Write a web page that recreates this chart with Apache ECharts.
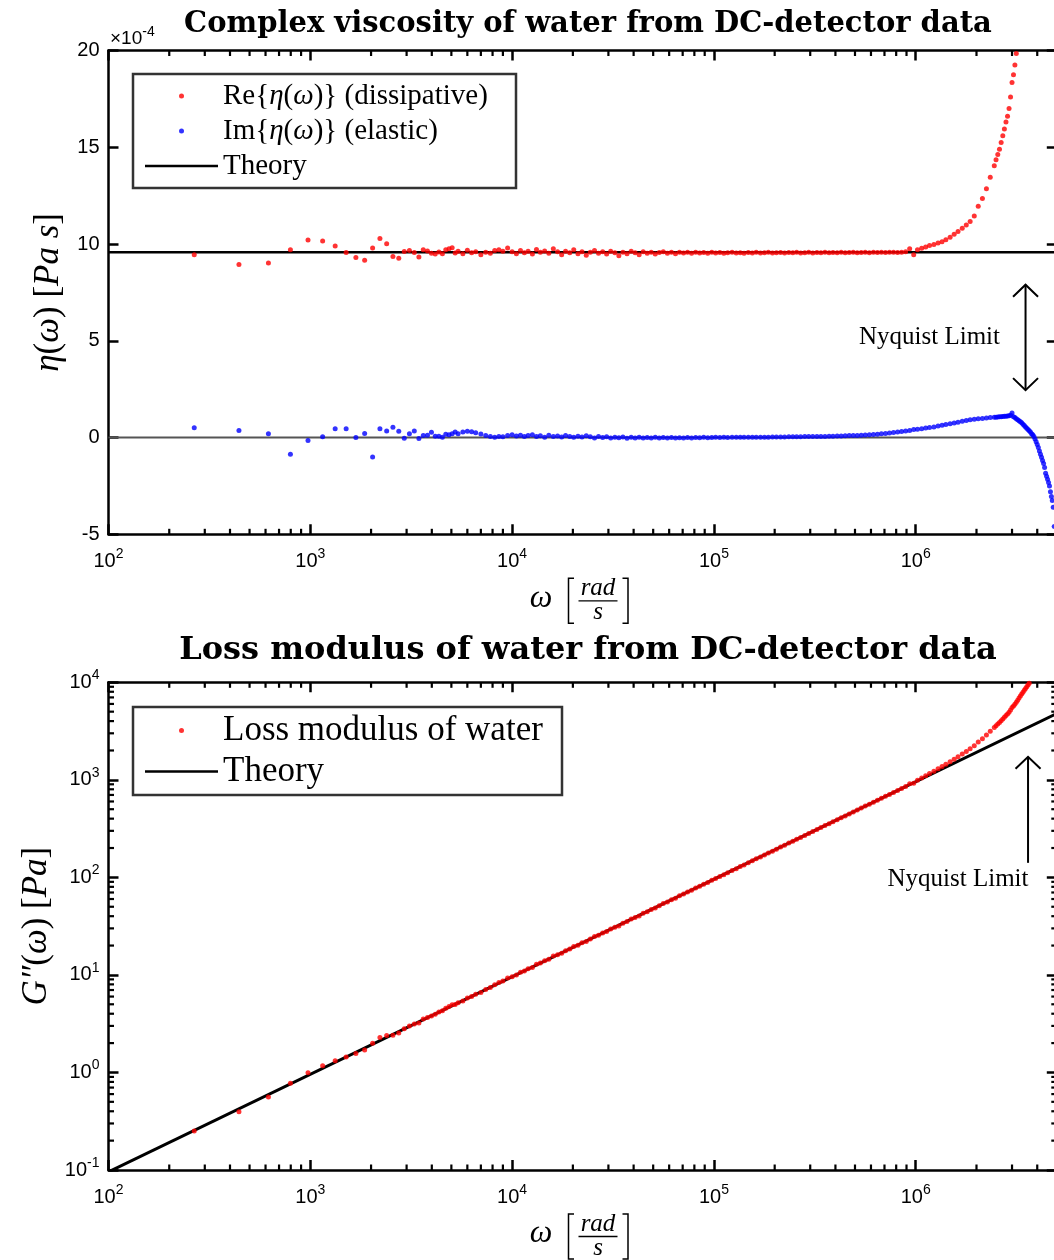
<!DOCTYPE html>
<html><head><meta charset="utf-8">
<script src="https://cdn.jsdelivr.net/npm/echarts@6/dist/echarts.min.js"></script>
<style>html,body{margin:0;padding:0;background:#fff}#c{width:1054px;height:1260px}</style>
</head><body><div id="c"></div>
<script>
// ---------------- DATA ----------------
// angular frequency omega [rad/s]
const omega = [
 266,443,620,797,974,1151,1328,1505,1682,1859,2036,2213,2390,2567,2744,2921,3098,3275,3452,3629,
 3806,3983,4160,4337,4514,4691,4868,5045,5222,
 5400,5700,6000,6300,6600,7000,7400,7800,8200,8600,
 9000,9500,10000,10500,11000,11500,12000,12600,13200,13800,
 14500,15200,16000,16800,17600,18400,19300,20200,21200,22200,
 23300,24400,25600,26800,28100,29400,30800,32300,33800,35400,
 37100,38900,40700,42600,44600,46700,48900,51200,53600,56100,
 58800,61600,64500,67500,70700,74000,77500,81200,85000,89000,
 93200,97600,102000,107000,112000,117000,123000,129000,135000,141000,
 148000,155000,162000,170000,178000,186000,195000,204000,214000,224000,
 235000,246000,257000,269000,282000,295000,309000,324000,339000,355000,
 372000,389000,408000,427000,447000,468000,490000,513000,537000,562000,
 589000,617000,646000,676000,708000,741000,776000,813000,851000,891000,
 933000,977000,1020000,1070000,1120000,1170000,1230000,1290000,1350000,1410000,
 1480000,1550000,1620000,1700000,1780000,1860000,1950000,2040000,2140000,2240000,
 2340000,2450000,
 2500000,2550000,2600000,2650000,2700000,2750000,2800000,2850000,2900000,2950000,
 3000000,3050000,3100000,3150000,3200000,3250000,3300000,3350000,3400000,3450000,
 3500000,3550000,3600000,3650000,3700000,3750000,3800000,3850000,3900000,3950000,
 4000000,4050000,4100000,4150000,4200000,4250000,4300000,4350000,4400000,4450000,
 4500000,4550000,4600000,4650000,4700000,4750000,4800000,4850000
];
// Re{eta(omega)} in units of 1e-4 Pa s (null = above the plotted range)
const reEta = [
 9.45,8.94,9.02,9.71,10.21,10.16,9.90,9.56,9.30,9.16,9.80,10.29,10.02,9.35,9.26,9.61,9.67,9.56,9.33,9.71,
 9.64,9.52,9.49,9.59,9.50,9.70,9.75,9.81,9.54,
 9.62,9.50,9.68,9.55,9.60,9.45,9.58,9.52,9.66,9.70,
 9.62,9.80,9.60,9.50,9.66,9.55,9.62,9.48,9.72,9.58,
 9.64,9.52,9.75,9.60,9.45,9.62,9.55,9.70,9.50,9.60,
 9.42,9.58,9.66,9.52,9.60,9.48,9.62,9.55,9.40,9.58,
 9.50,9.62,9.55,9.45,9.60,9.52,9.58,9.48,9.56,9.60,
 9.52,9.57,9.50,9.58,9.53,9.57,9.52,9.58,9.54,9.56,
 9.52,9.57,9.53,9.56,9.52,9.55,9.58,9.53,9.55,9.52,
 9.56,9.54,9.57,9.53,9.55,9.57,9.53,9.55,9.56,9.54,
 9.56,9.55,9.57,9.54,9.55,9.57,9.54,9.56,9.55,9.57,
 9.55,9.56,9.55,9.57,9.55,9.56,9.57,9.55,9.56,9.57,
 9.55,9.57,9.56,9.58,9.56,9.57,9.58,9.56,9.58,9.60,
 9.75,9.45,9.70,9.78,9.85,9.92,9.98,10.05,10.12,10.22,
 10.35,10.50,10.65,10.82,10.98,11.17,11.45,11.95,12.35,12.85,
 13.45,14.05,
 14.35,14.62,14.90,15.25,15.60,15.95,16.30,16.60,17.00,17.60,
 18.35,18.75,19.25,19.85,20.5,21.2,21.9,22.6,23.3,24.0,
 24.7,25.4,26.1,26.8,27.5,null,null,null,null,null,
 null,null,null,null,null,null,null,null,null,null,
 null,null,null,null,null,null,null,null
];
// Im{eta(omega)} in units of 1e-4 Pa s
const imEta = [
 0.50,0.36,0.19,-0.86,-0.15,0.04,0.45,0.45,0.00,0.21,-1.00,0.45,0.34,0.53,0.33,-0.04,0.19,0.34,-0.05,0.10,
 0.12,0.27,0.07,0.07,0.02,0.17,0.15,0.19,0.29,
 0.20,0.28,0.33,0.30,0.25,0.18,0.10,0.05,0.02,0.06,
 0.04,0.10,0.14,0.08,0.12,0.05,0.10,0.14,0.06,0.09,
 0.02,0.12,0.05,0.08,0.03,0.10,0.06,0.02,0.07,0.03,
 0.09,0.04,-0.02,0.05,0.00,0.04,-0.03,0.02,-0.01,0.03,
 -0.04,0.01,-0.02,0.02,-0.03,0.00,-0.02,0.01,-0.03,0.00,
 -0.02,0.00,-0.03,-0.01,-0.02,0.00,-0.02,0.00,-0.01,0.01,
 -0.01,0.00,0.01,0.00,0.01,0.00,0.01,0.01,0.02,0.01,
 0.02,0.02,0.01,0.02,0.02,0.02,0.03,0.03,0.03,0.03,
 0.04,0.04,0.04,0.04,0.05,0.05,0.05,0.06,0.06,0.06,
 0.07,0.07,0.08,0.08,0.09,0.10,0.10,0.11,0.12,0.13,
 0.14,0.16,0.17,0.19,0.21,0.23,0.26,0.28,0.31,0.34,
 0.37,0.41,0.43,0.46,0.49,0.52,0.55,0.59,0.63,0.67,
 0.71,0.75,0.79,0.84,0.88,0.92,0.95,0.97,0.99,1.01,
 1.03,1.05,
 1.05,1.06,1.07,1.08,1.09,1.10,1.10,1.11,1.12,1.15,
 1.27,1.08,1.03,0.97,0.92,0.87,0.82,0.76,0.69,0.62,
 0.55,0.48,0.42,0.35,0.28,0.20,0.15,0.05,-0.08,-0.22,
 -0.36,-0.52,-0.70,-0.86,-1.02,-1.18,-1.34,-1.55,-1.85,-2.00,
 -2.15,-2.32,-2.50,-2.80,-3.05,-3.25,-3.60,-4.60
];
// theory lines (endpoints)
const theoryOmega = [100, 5000000];
const theoryEta = [9.57, 9.57];        // 1e-4 Pa s
const theoryZero = [0, 0];
const theoryG = [0.0957, 4785];        // Pa
// axes
const X_MIN = 100, X_MAX = 5000000;
const ETA_MIN = -5, ETA_MAX = 20, ETA_STEP = 5;
const G_MIN = 0.1, G_MAX = 10000;
const ETA_SCALE = 1e-4;
const nyquistOmega = 3500000;

// ---------------- CHART ----------------
const SERIF = "'Liberation Serif', 'DejaVu Serif', serif";
const SANS = "'Liberation Sans', Arial, sans-serif";
const chart = echarts.init(document.getElementById('c'));

const reData = omega.map((w, i) => [w, reEta[i]]).filter(p => p[1] !== null);
const imData = omega.map((w, i) => [w, imEta[i]]);
const lossData = omega.map((w, i) => reEta[i] === null ? null : [w, w * reEta[i] * ETA_SCALE]).filter(Boolean);
const theoryEtaData = theoryOmega.map((w, i) => [w, theoryEta[i]]);
const zeroData = theoryOmega.map((w, i) => [w, theoryZero[i]]);
const theoryGData = theoryOmega.map((w, i) => [w, theoryG[i]]);

function powLabel(v) {
  const l = Math.log10(v), e = Math.round(l);
  if (Math.abs(l - e) > 1e-6) return '';
  return '{b|10}{s|' + e + '}';
}
const powRich = {
  b: {fontSize: 20, fontFamily: SANS, color: '#000', verticalAlign: 'bottom', lineHeight: 20},
  s: {fontSize: 14, fontFamily: SANS, color: '#000', verticalAlign: 'bottom', lineHeight: 14, padding: [0, 0, 10, 0]}
};
const axLine = {show: true, onZero: false, lineStyle: {color: '#000', width: 2.5}};
const axTick = {show: true, inside: true, length: 10, lineStyle: {color: '#000', width: 2.5}};

function xAx(gi, pos, label) {
  return {type: 'log', logBase: 10, gridIndex: gi, position: pos, min: X_MIN, max: X_MAX,
    axisLine: axLine, axisTick: axTick,
    axisLabel: {show: label, margin: 17, color: '#000', formatter: powLabel, rich: powRich, showMaxLabel: false},
    splitLine: {show: false}, minorTick: {show: false}, minorSplitLine: {show: false}};
}
const italicY = {fontStyle: 'italic', fontFamily: SERIF, fontSize: 35, color: '#000'};
const LINE_ICON = 'path://M0,0 L73,0 L73,2.5 L0,2.5 Z';

const legendText = {
  re: 'Re{{i|η}({i|ω})} (dissipative)',
  im: 'Im{{i|η}({i|ω})} (elastic)',
  Theory: 'Theory',
  loss: 'Loss modulus of water'
};

const option = {
  animation: false,
  backgroundColor: '#fff',
  title: [
    {text: 'Complex viscosity of water from DC-detector data', left: 583, top: 5, textAlign: 'center',
     textStyle: {fontFamily: "'DejaVu Serif', serif", fontWeight: 'bold', fontSize: 29, color: '#000'}},
    {text: 'Loss modulus of water from DC-detector data', left: 583, top: 630, textAlign: 'center',
     textStyle: {fontFamily: "'DejaVu Serif', serif", fontWeight: 'bold', fontSize: 32, color: '#000'}}
  ],
  grid: [
    {left: 108.5, top: 50.5, width: 948.3, height: 483.8, outerBoundsMode: 'none'},
    {left: 108.5, top: 682.3, width: 948.3, height: 487.7, outerBoundsMode: 'none'}
  ],
  xAxis: [xAx(0, 'bottom', true), xAx(0, 'top', false), xAx(1, 'bottom', true), xAx(1, 'top', false)],
  yAxis: [
    {type: 'value', gridIndex: 0, position: 'left', min: ETA_MIN, max: ETA_MAX, interval: ETA_STEP,
     axisLine: axLine, axisTick: axTick, splitLine: {show: false},
     axisLabel: {margin: 9, color: '#000', fontSize: 20, fontFamily: SANS},
     name: '{i|η}({i|ω}) [{i|Pa}{i| s}]', nameLocation: 'middle', nameRotate: 90, nameGap: 42,
     nameTextStyle: {fontFamily: SERIF, fontSize: 35, color: '#000', rich: {i: italicY}}},
    {type: 'value', gridIndex: 0, position: 'right', min: ETA_MIN, max: ETA_MAX, interval: ETA_STEP,
     axisLine: axLine, axisTick: axTick, splitLine: {show: false}, axisLabel: {show: false}},
    {type: 'log', logBase: 10, gridIndex: 1, position: 'left', min: G_MIN, max: G_MAX,
     axisLine: axLine, axisTick: axTick, splitLine: {show: false}, minorTick: {show: false},
     axisLabel: {margin: 9, color: '#000', formatter: powLabel, rich: powRich},
     name: '{i|G″}({i|ω}) [{i|Pa}]', nameLocation: 'middle', nameRotate: 90, nameGap: 47,
     nameTextStyle: {fontFamily: SERIF, fontSize: 35, color: '#000', rich: {i: italicY}}},
    {type: 'log', logBase: 10, gridIndex: 1, position: 'right', min: G_MIN, max: G_MAX,
     axisLine: axLine, axisTick: axTick, splitLine: {show: false}, minorTick: {show: false}, axisLabel: {show: false}}
  ],
  legend: [
    {data: ['re', 'im', {name: 'Theory', icon: LINE_ICON, itemStyle: {color: '#000'}}],
     left: 133, top: 74, orient: 'vertical',
     itemWidth: 73, itemHeight: 5, itemGap: 6, padding: [7.5, 9, 7.5, 12],
     borderColor: '#333', borderWidth: 2.5, backgroundColor: '#fff', selectedMode: false,
     formatter: n => legendText[n],
     textStyle: {fontFamily: SERIF, fontSize: 29, lineHeight: 26, color: '#000', width: 284,
       rich: {i: {fontStyle: 'italic', fontFamily: SERIF, fontSize: 29, lineHeight: 26, color: '#000'}}}},
    {data: ['loss', {name: 'Theory', icon: LINE_ICON, itemStyle: {color: '#000'}}],
     left: 133, top: 707, orient: 'vertical',
     itemWidth: 73, itemHeight: 5, itemGap: 6, padding: [6, 10, 6, 12],
     borderColor: '#333', borderWidth: 2.5, backgroundColor: '#fff', selectedMode: false,
     formatter: n => legendText[n],
     textStyle: {fontFamily: SERIF, fontSize: 35, lineHeight: 30, color: '#000', width: 329}}
  ],
  series: [
    {name: 'Theory', type: 'line', xAxisIndex: 0, yAxisIndex: 0, data: theoryEtaData, symbol: 'none',
     lineStyle: {color: '#000', width: 2.5}, itemStyle: {color: '#000'}, z: 2, silent: true},
    {name: 'zero', type: 'line', xAxisIndex: 0, yAxisIndex: 0, data: zeroData, symbol: 'none',
     lineStyle: {color: '#555', width: 2}, itemStyle: {color: '#555'}, z: 2, silent: true},
    {name: 're', type: 'scatter', xAxisIndex: 0, yAxisIndex: 0, data: reData, symbol: 'circle', symbolSize: 5,
     itemStyle: {color: '#ff0000'}, z: 3, silent: true},
    {name: 'im', type: 'scatter', xAxisIndex: 0, yAxisIndex: 0, data: imData, symbol: 'circle', symbolSize: 5,
     itemStyle: {color: '#0000ff'}, z: 3, silent: true},
    {name: 'Theory', type: 'line', xAxisIndex: 2, yAxisIndex: 2, data: theoryGData, symbol: 'none',
     lineStyle: {color: '#000', width: 3}, itemStyle: {color: '#000'}, z: 2, silent: true},
    {name: 'loss', type: 'scatter', xAxisIndex: 2, yAxisIndex: 2, data: lossData, symbol: 'circle', symbolSize: 5,
     itemStyle: {color: '#ff0000'}, z: 3, silent: true}
  ]
};
chart.setOption(option);

// ---------- decorations: minor ticks, annotations, x-axis names ----------
const G = [];
function seg(x1, y1, x2, y2, w) {
  G.push({type: 'line', silent: true, z: 50, shape: {x1, y1, x2, y2}, style: {stroke: '#000', lineWidth: w}});
}
function poly(points, w) {
  G.push({type: 'polyline', silent: true, z: 50, shape: {points}, style: {stroke: '#000', lineWidth: w, fill: null}});
}
function txt(x, y, text, font, align) {
  G.push({type: 'text', silent: true, z: 50, x, y,
    style: {text, font, fill: '#000', align: align || 'center', verticalAlign: 'middle'}});
}
const xMinor = [];
for (let e = 2; e <= 6; e++) for (let k = 2; k <= 9; k++) { const v = k * Math.pow(10, e); if (v < X_MAX) xMinor.push(v); }
const yMinor = [];
for (let e = -1; e <= 3; e++) for (let k = 2; k <= 9; k++) yMinor.push(k * Math.pow(10, e));
[[0, ETA_MIN, ETA_MAX], [1, G_MIN, G_MAX]].forEach(([gi, lo, hi]) => {
  const yb = chart.convertToPixel({gridIndex: gi}, [X_MIN, lo])[1];
  const yt = chart.convertToPixel({gridIndex: gi}, [X_MIN, hi])[1];
  xMinor.forEach(v => {
    const x = chart.convertToPixel({gridIndex: gi}, [v, lo])[0];
    seg(x, yb, x, yb - 5.5, 2.2); seg(x, yt, x, yt + 5.5, 2.2);
  });
});
const xl = chart.convertToPixel({gridIndex: 1}, [X_MIN, 1])[0];
const xr = chart.convertToPixel({gridIndex: 1}, [X_MAX, 1])[0];
yMinor.forEach(v => {
  const y = chart.convertToPixel({gridIndex: 1}, [X_MIN, v])[1];
  seg(xl, y, xl + 5.5, y, 2.2); seg(xr, y, xr - 5.5, y, 2.2);
});

// x-axis names: omega [rad / s]
const IT = "italic 32px 'Liberation Serif'";
const ITs = "italic 25px 'Liberation Serif'";
[0, 1].forEach(gi => {
  const yb = chart.convertToPixel({gridIndex: gi}, [X_MIN, gi === 0 ? ETA_MIN : G_MIN])[1];
  const cy = yb + 66;
  txt(541, cy - 2, 'ω', IT);
  poly([[574, cy - 22], [568.5, cy - 22], [568.5, cy + 23], [574, cy + 23]], 1.5);
  txt(598, cy - 12, 'rad', ITs);
  seg(578.5, cy + 0.5, 617.5, cy + 0.5, 1.3);
  txt(598, cy + 12, 's', ITs);
  poly([[622.5, cy - 22], [628, cy - 22], [628, cy + 23], [622.5, cy + 23]], 1.5);
});

// x10^-4 multiplier
G.push({type: 'text', silent: true, z: 50, x: 110, y: 48,
  style: {text: '×10{s|-4}', font: "19px 'Liberation Sans'", fill: '#000', align: 'left', verticalAlign: 'bottom',
    rich: {s: {font: "14px 'Liberation Sans'", fill: '#000', verticalAlign: 'bottom', lineHeight: 14, padding: [0, 0, 9, 0]}}}});

// Nyquist annotations
const NF = "25px 'Liberation Serif'";
const nx0 = chart.convertToPixel({gridIndex: 0}, [nyquistOmega, 0])[0];
const ya = chart.convertToPixel({gridIndex: 0}, [nyquistOmega, 7.9])[1];
const yz = chart.convertToPixel({gridIndex: 0}, [nyquistOmega, 2.45])[1];
seg(nx0, ya, nx0, yz, 2);
poly([[nx0 - 12.5, ya + 12], [nx0, ya], [nx0 + 12.5, ya + 12]], 2);
poly([[nx0 - 12.5, yz - 12], [nx0, yz], [nx0 + 12.5, yz - 12]], 2);
txt(1000, (ya + yz) / 2, 'Nyquist Limit', NF, 'right');

const nx1 = chart.convertToPixel({gridIndex: 1}, [nyquistOmega, 1])[0] + 2.5;
const yt1 = chart.convertToPixel({gridIndex: 1}, [nyquistOmega, 1722])[1];
const yb1 = chart.convertToPixel({gridIndex: 1}, [nyquistOmega, 141])[1];
seg(nx1, yt1, nx1, yb1, 2);
poly([[nx1 - 12.5, yt1 + 12], [nx1, yt1], [nx1 + 12.5, yt1 + 12]], 2);
txt(958, yb1 + 17, 'Nyquist Limit', NF, 'center');

chart.setOption({graphic: G});
</script>
</body></html>
